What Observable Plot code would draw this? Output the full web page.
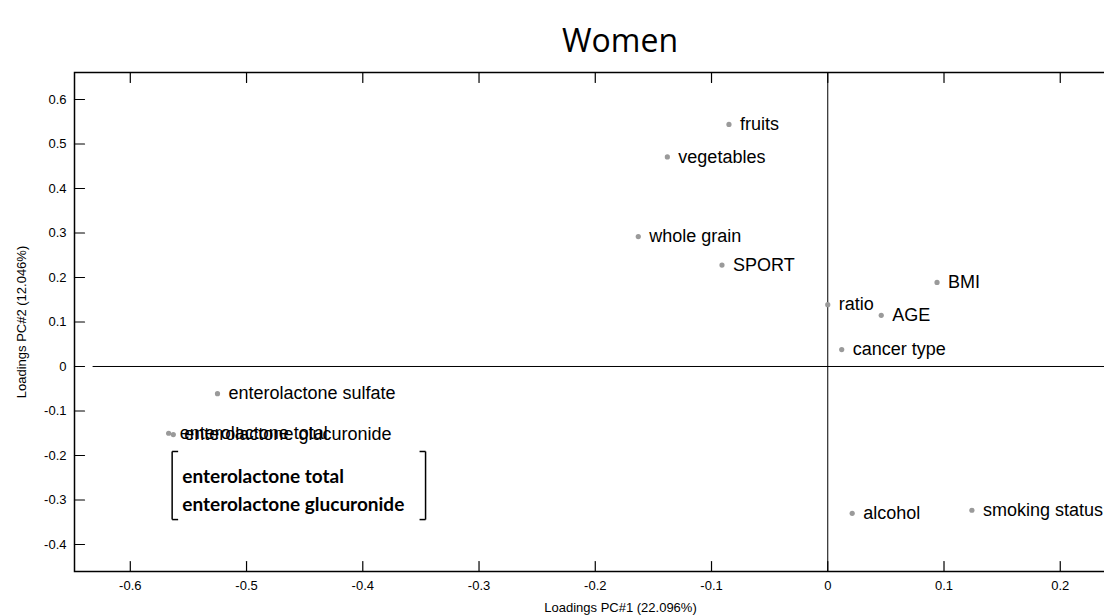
<!DOCTYPE html>
<html>
<head>
<meta charset="utf-8">
<script src="https://cdn.jsdelivr.net/npm/d3@7"></script>
<script src="https://cdn.jsdelivr.net/npm/@observablehq/plot@0.6"></script>
<style>
  html, body { margin: 0; padding: 0; background: #fff; width: 1104px; height: 615px; overflow: hidden; }
  #title { position: absolute; left: 0; top: 0; width: 1240px; height: 60px; text-align: center;
           font-family: "Open Sans", sans-serif; font-size: 32px; line-height: 80px; color: #000; }
  #chart { position: absolute; left: 0; top: 60px; width: 1180px; }
  #chart svg { max-width: none !important; width: 1180px !important; height: 555px !important; }
</style>
</head>
<body>
<div id="title">Women</div>
<div id="chart"></div>
<script>
// ---- data ----
const names = ["fruits", "vegetables", "whole grain", "SPORT", "BMI", "ratio", "AGE", "cancer type",
  "enterolactone sulfate", "enterolactone total", "enterolactone glucuronide", "alcohol", "smoking status"];
const pc1 = [-0.085, -0.138, -0.163, -0.091, 0.094, 0.000, 0.046, 0.012, -0.525, -0.567, -0.563, 0.021, 0.124];
const pc2 = [0.544, 0.471, 0.292, 0.228, 0.189, 0.139, 0.115, 0.038, -0.061, -0.150, -0.153, -0.330, -0.323];

const xTicks = [-0.6, -0.5, -0.4, -0.3, -0.2, -0.1, 0, 0.1, 0.2];
const yTicks = [-0.4, -0.3, -0.2, -0.1, 0, 0.1, 0.2, 0.3, 0.4, 0.5, 0.6];
const xDomain = [-0.648, 0.2914];
const yDomain = [-0.4607, 0.6607];

// annotation box around the overlapping labels
const noteLines = ["enterolactone total", "enterolactone glucuronide"];
const noteX = -0.5553;
const noteY = [-0.247, -0.312];
const bracketX = [-0.564, -0.346];
const bracketY = [-0.191, -0.344];
const zeroLineStart = -0.632;

const points = names.map((n, i) => ({name: n, x: pc1[i], y: pc2[i]}));

const W = 1180, H = 555, mL = 74, mR = 14, mT = 12, mB = 44;
const frameW = W - mL - mR;
const armLen = 6;
const adx = (xDomain[1] - xDomain[0]) * armLen / frameW;

// inward tick stubs: a straight segment shape, length in pixels
const stub = {draw(context, l) { context.moveTo(0, 0); context.lineTo(0, -l); }};

const bracketSegs = [
  {x1: bracketX[0], y1: bracketY[0], x2: bracketX[0], y2: bracketY[1]},
  {x1: bracketX[0], y1: bracketY[0], x2: bracketX[0] + adx, y2: bracketY[0]},
  {x1: bracketX[0], y1: bracketY[1], x2: bracketX[0] + adx, y2: bracketY[1]},
  {x1: bracketX[1], y1: bracketY[0], x2: bracketX[1], y2: bracketY[1]},
  {x1: bracketX[1], y1: bracketY[0], x2: bracketX[1] - adx, y2: bracketY[0]},
  {x1: bracketX[1], y1: bracketY[1], x2: bracketX[1] - adx, y2: bracketY[1]}
];

const fmt = d => d === 0 ? "0" : String(d);

const chart = Plot.plot({
  width: W, height: H,
  marginLeft: mL, marginRight: mR, marginTop: mT, marginBottom: mB,
  style: {fontFamily: "'Liberation Sans', Arial, sans-serif", background: "#fff", color: "#000"},
  x: {domain: xDomain, ticks: xTicks},
  y: {domain: yDomain, ticks: yTicks},
  marks: [
    Plot.frame({stroke: "#000", strokeWidth: 1.5}),
    // zero reference lines
    Plot.ruleY([0], {x1: zeroLineStart, x2: xDomain[1], stroke: "#000", strokeWidth: 1}),
    Plot.ruleX([0], {y1: yDomain[0], y2: yDomain[1], stroke: "#000", strokeWidth: 1}),
    // inward ticks
    Plot.vector(xTicks, {x: d => d, y: yDomain[0], length: 10, rotate: 0, anchor: "start", shape: stub, stroke: "#000", strokeWidth: 1.2}),
    Plot.vector(xTicks, {x: d => d, y: yDomain[1], length: 10, rotate: 180, anchor: "start", shape: stub, stroke: "#000", strokeWidth: 1.2}),
    Plot.vector(yTicks, {x: xDomain[0], y: d => d, length: 10, rotate: 90, anchor: "start", shape: stub, stroke: "#000", strokeWidth: 1.2}),
    Plot.axisX(xTicks, {anchor: "bottom", tickSize: 0, tickPadding: 9, fontSize: 13, tickFormat: fmt,
      label: "Loadings PC#1 (22.096%)", labelAnchor: "center", labelArrow: "none", labelOffset: 40}),
    Plot.axisY(yTicks, {anchor: "left", tickSize: 0, tickPadding: 8, fontSize: 13, tickFormat: fmt,
      label: "Loadings PC#2 (12.046%)", labelAnchor: "center", labelArrow: "none", labelOffset: 58}),
    // points
    Plot.dot(points, {x: "x", y: "y", r: 2.6, fill: "#9a9a9a", stroke: "none"}),
    Plot.text(points, {x: "x", y: "y", text: "name", dx: 11, textAnchor: "start", fontSize: 18, fill: "#000"}),
    // annotation
    Plot.link(bracketSegs, {x1: "x1", y1: "y1", x2: "x2", y2: "y2", stroke: "#000", strokeWidth: 1.5}),
    Plot.text(noteLines, {x: noteX, y: (d, i) => noteY[i], text: d => d, textAnchor: "start",
      fontSize: 19, fontWeight: "bold", fontFamily: "Lato, 'Open Sans', sans-serif", fill: "#000"})
  ]
});
document.getElementById("chart").appendChild(chart);
</script>
</body>
</html>
